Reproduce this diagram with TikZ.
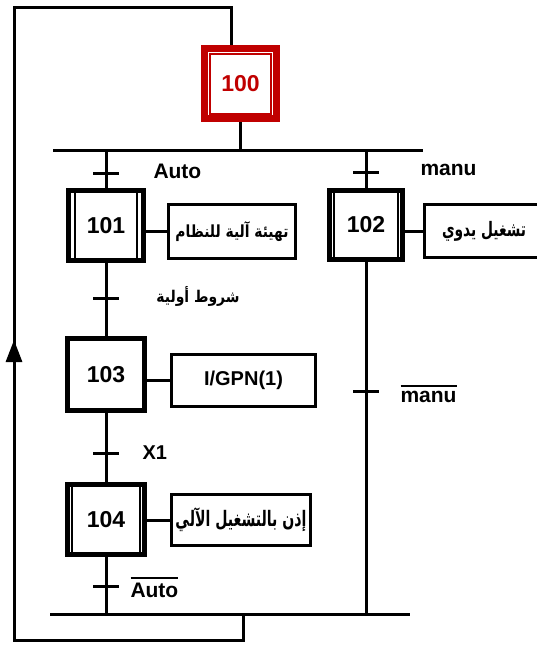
\documentclass[tikz,border=0pt]{standalone}
\usepackage{fontspec}
\usepackage{graphicx}
\setmainfont{Liberation Sans}
\newfontfamily\arabicfont[Script=Arabic]{DejaVu Sans}
\TeXXeTstate=1
\usetikzlibrary{arrows.meta,calc}
\definecolor{stepred}{RGB}{192,0,0}
\newcommand\myovl[1]{\vbox{\hrule height 2pt\kern 4pt\hbox{#1}}}
\newcommand\artxt[3]{\resizebox*{#1}{#2}{\arabicfont\bfseries #3}}
\begin{document}
\begin{tikzpicture}[x=1pt,y=-1pt,line width=3pt,
  stepbox/.style={draw, line width=5pt, inner sep=0pt, font=\fontsize{23}{26}\selectfont\bfseries},
  actbox/.style={draw, line width=3pt, inner sep=0pt},
  lbl/.style={font=\fontsize{21}{24}\selectfont\bfseries, inner sep=0pt},
  trans/.style={fill=black, minimum width=26pt, minimum height=3pt, inner sep=0pt, outer sep=0pt},
  wire/.style={line width=3pt},
  innerline/.style={line width=2pt}]
\useasboundingbox (0,0) rectangle (537,646);
% loop coordinates and bars
\coordinate (c1) at (14,7);
\coordinate (c2) at (231,7);
\coordinate (c3) at (14,640);
\coordinate (c4) at (243,640);
\coordinate (topL) at (53,150);
\coordinate (topR) at (423,150);
\coordinate (botL) at (50,614);
\coordinate (botR) at (410,614);
% steps
\node[stepbox, draw=stepred, line width=7pt, text=stepred, minimum width=72pt, minimum height=70pt] (s100) at (240.5,83.5) {100};
\draw[stepred, line width=1.5pt] ($(s100.north west)+(9,9)$) rectangle ($(s100.south east)+(-9,-8)$);
\node[stepbox, minimum width=75pt, minimum height=70pt] (s101) at (106,225.5) {101};
\node[stepbox, minimum width=73pt, minimum height=69pt] (s102) at (366,225) {102};
\node[stepbox, minimum width=77pt, minimum height=72pt] (s103) at (106,374.5) {103};
\node[stepbox, minimum width=77pt, minimum height=70pt] (s104) at (106,519.5) {104};
\foreach \s/\d in {s101/9, s102/7, s104/7}{
  \draw[innerline] ($(\s.north west)+(\d,0)$) -- ($(\s.south west)+(\d,0)$);
  \draw[innerline] ($(\s.north east)+(-\d,0)$) -- ($(\s.south east)+(-\d,0)$);
}
% actions
\node[actbox, minimum width=127pt, minimum height=54pt] (a101) at (232,231.5) {\artxt{113pt}{20pt}{\beginR تهيئة آلية للنظام\endR}};
\node[actbox, minimum width=119pt, minimum height=53pt] (a102) at (484,231) {\artxt{84pt}{20pt}{\beginR تشغيل يدوي\endR}};
\node[actbox, minimum width=144pt, minimum height=52pt, font=\fontsize{20}{24}\selectfont\bfseries] (a103) at (243.5,380.5) {I/GPN(1)};
\node[actbox, minimum width=139pt, minimum height=51pt] (a104) at (241,520) {\artxt{131pt}{24pt}{\beginR إذن بالتشغيل الآلي\endR}};
% transitions
\node[trans] (t1) at (106,173) {};
\node[trans] (t2) at (366,172) {};
\node[trans] (t3) at (106,298) {};
\node[trans] (t4) at (106,453) {};
\node[trans] (t5) at (106,586) {};
\node[trans] (t6) at (366,391) {};
% bars
\draw[wire] (topL) -- (topR);
\draw[wire] (botL) -- (botR);
% connectors
\draw[wire] (c4 |- botL) -- (c4) -- (c3) -- (c1) -- (c2) -- (c2 |- s100.north);
\draw[-{Triangle[length=22pt,width=16pt]}] (14,385) -- (14,340);
\draw[wire] (s100.south) -- (s100.south |- topL);
\draw[wire] (s101.north |- topL) -- (s101.north);
\draw[wire] (s102.north |- topL) -- (s102.north);
\draw[wire] (s101.south) -- (s103.north);
\draw[wire] (s103.south) -- (s104.north);
\draw[wire] (s104.south) -- (s104.south |- botL);
\draw[wire] (s102.south) -- (s102.south |- botL);
\draw[wire] (a101.west) -- (a101.west -| s101.east);
\draw[wire] (a102.west) -- (a102.west -| s102.east);
\draw[wire] (a103.west) -- (a103.west -| s103.east);
\draw[wire] (a104.west) -- (a104.west -| s104.east);
% labels
\node[lbl, anchor=base west] (lAuto) at (152,178) {Auto};
\node[lbl, anchor=base west] (lmanu) at (419,175) {manu};
\node (lcond) at (198,296) {\artxt{83pt}{20pt}{\beginR شروط أولية\endR}};
\node[lbl, anchor=west, font=\fontsize{20}{24}\selectfont\bfseries] (lX1) at (141,453) {X1};
\node[lbl, anchor=base west] (lnmanu) at (399,402) {\myovl{manu}};
\node[lbl, anchor=base west] (lnAuto) at (129,597) {\myovl{Auto}};
\end{tikzpicture}
\end{document}
